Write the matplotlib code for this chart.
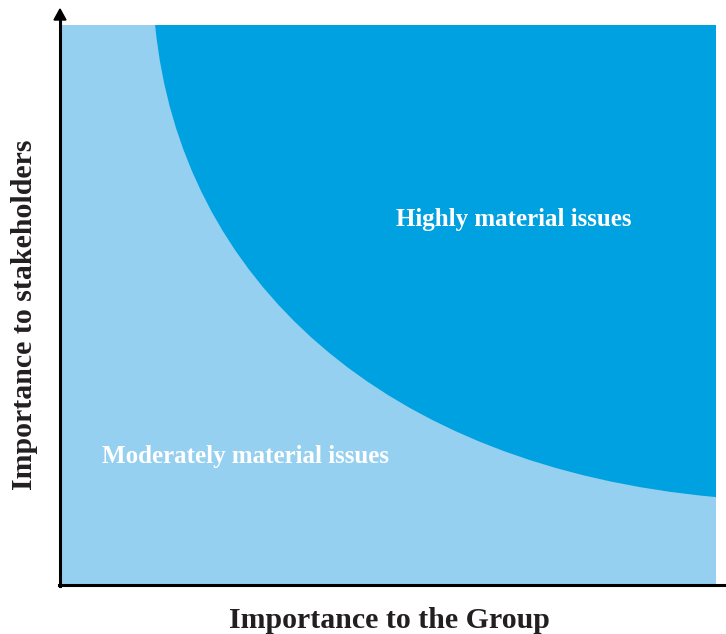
import matplotlib
matplotlib.use("Agg")
import matplotlib.pyplot as plt
from matplotlib.path import Path
from matplotlib.patches import PathPatch, Rectangle, FancyArrow

# Boundary curve between the two zones: cubic Bezier (start, 2 controls, end), axis 0-10
curve_x = [1.45, 1.83, 4.92, 10.0]
curve_y = [10.0, 5.46, 2.11, 1.57]
zone_labels = ["Highly material issues", "Moderately material issues"]
xlabel = "Importance to the Group"
ylabel = "Importance to stakeholders"

light = "#96D0F0"
dark = "#00A1E0"
textc = "#231F20"
serif = ["Liberation Serif", "DejaVu Serif"]

W, H = 726, 634
fig = plt.figure(figsize=(W / 100, H / 100), dpi=100)
ax = fig.add_axes([60 / W, (H - 585) / H, 656 / W, 560 / H])
ax.set_xlim(0, 10)
ax.set_ylim(0, 10)
ax.axis("off")

ax.add_patch(Rectangle((0, 0), 10, 10, facecolor=light, edgecolor="none"))

verts = list(zip(curve_x, curve_y)) + [(10, 10), (curve_x[0], curve_y[0]), (0, 0)]
codes = [Path.MOVETO, Path.CURVE4, Path.CURVE4, Path.CURVE4,
         Path.LINETO, Path.LINETO, Path.CLOSEPOLY]
ax.add_patch(PathPatch(Path(verts, codes), facecolor=dark, edgecolor="none"))

ax.text(6.91, 6.52, zone_labels[0], color="white", fontsize=18, fontweight="bold",
        family=serif, ha="center", va="center")
ax.text(0.64, 2.30, zone_labels[1], color="white", fontsize=18, fontweight="bold",
        family=serif, ha="left", va="center")

# Axis lines in figure pixel coordinates
def fx(px):
    return px / W

def fy(py):
    return 1 - py / H

fig.add_artist(plt.Line2D([fx(59), fx(726)], [fy(585), fy(585)], color="black", lw=2.2,
                          transform=fig.transFigure))
fig.add_artist(plt.Line2D([fx(60), fx(60)], [fy(586), fy(18)], color="black", lw=2.2,
                          transform=fig.transFigure))
fig.patches.append(FancyArrow(
    fx(60), fy(20), 0, fy(9) - fy(20), width=0.0, head_width=12 / W, head_length=11 / H,
    length_includes_head=True, color="black", transform=fig.transFigure))

fig.text(fx(389), fy(620), xlabel, fontsize=21.5, fontweight="bold", family=serif,
         color=textc, ha="center", va="center")
fig.text(fx(25), fy(315), ylabel, fontsize=21.5, fontweight="bold", family=serif,
         color=textc, ha="center", va="center", rotation=90)

fig.savefig("out.png", dpi=100)
